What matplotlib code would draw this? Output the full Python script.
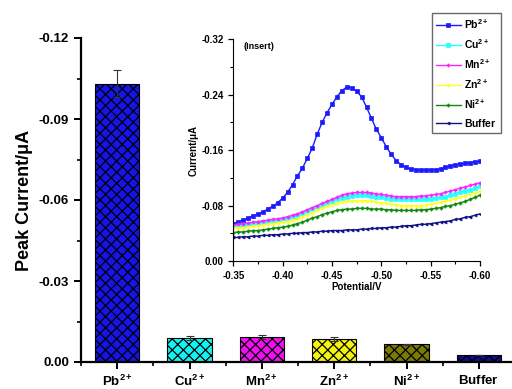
import numpy as np
import matplotlib
matplotlib.use("Agg")
import matplotlib.pyplot as plt
from matplotlib.ticker import FuncFormatter, FixedLocator

plt.rcParams['font.family'] = ['Liberation Sans', 'DejaVu Sans']
plt.rcParams['mathtext.fontset'] = 'custom'
plt.rcParams['mathtext.rm'] = 'Liberation Sans'
plt.rcParams['mathtext.bf'] = 'Liberation Sans:bold'
plt.rcParams['mathtext.it'] = 'Liberation Sans:italic'
plt.rcParams['hatch.linewidth'] = 0.9

# ---- bar data ----
ions = ['Pb', 'Cu', 'Mn', 'Zn', 'Ni', 'Buffer']
peak_current = [-0.103, -0.0088, -0.0094, -0.0085, -0.0066, -0.0026]
peak_err = [0.005, 0.0008, 0.0007, 0.0007, 0.0002, 0.0001]
bar_colors = ['#1515e8', '#11f4f4', '#f011f0', '#f4f411', '#7a7a05', '#0f0f8a']

# ---- inset data ----
potential = np.linspace(-0.35, -0.60, 51)
pb_curve = [0.054, 0.056, 0.059, 0.062, 0.065, 0.068, 0.071, 0.075, 0.079, 0.084,
            0.091, 0.099, 0.110, 0.123, 0.134, 0.148, 0.163, 0.183, 0.200, 0.214,
            0.226, 0.237, 0.246, 0.251, 0.250, 0.245, 0.237, 0.222, 0.206, 0.190,
            0.178, 0.165, 0.154, 0.145, 0.139, 0.135, 0.133, 0.132, 0.131, 0.131,
            0.131, 0.132, 0.133, 0.135, 0.137, 0.139, 0.140, 0.141, 0.142, 0.143,
            0.144]
cu_curve = [0.050, 0.051, 0.052, 0.053, 0.054, 0.055, 0.056, 0.057, 0.058, 0.059,
            0.060, 0.062, 0.064, 0.066, 0.069, 0.072, 0.075, 0.078, 0.081, 0.084,
            0.086, 0.089, 0.091, 0.093, 0.094, 0.095, 0.095, 0.095, 0.094, 0.093,
            0.092, 0.091, 0.090, 0.090, 0.089, 0.089, 0.089, 0.089, 0.089, 0.089,
            0.090, 0.091, 0.092, 0.093, 0.095, 0.097, 0.099, 0.101, 0.103, 0.105,
            0.108]
mn_curve = [0.052, 0.053, 0.054, 0.055, 0.056, 0.057, 0.058, 0.059, 0.060, 0.061,
            0.062, 0.064, 0.066, 0.068, 0.071, 0.074, 0.077, 0.080, 0.083, 0.086,
            0.089, 0.092, 0.095, 0.097, 0.098, 0.099, 0.099, 0.099, 0.098, 0.097,
            0.096, 0.095, 0.094, 0.093, 0.093, 0.093, 0.093, 0.093, 0.094, 0.094,
            0.095, 0.096, 0.097, 0.099, 0.101, 0.103, 0.105, 0.107, 0.109, 0.111,
            0.113]
zn_curve = [0.047, 0.048, 0.048, 0.049, 0.050, 0.051, 0.052, 0.053, 0.054, 0.055,
            0.056, 0.057, 0.059, 0.061, 0.064, 0.067, 0.070, 0.073, 0.076, 0.079,
            0.081, 0.083, 0.085, 0.086, 0.087, 0.087, 0.087, 0.087, 0.086, 0.085,
            0.084, 0.083, 0.082, 0.081, 0.080, 0.080, 0.080, 0.080, 0.080, 0.081,
            0.082, 0.083, 0.085, 0.086, 0.088, 0.090, 0.092, 0.094, 0.096, 0.098,
            0.101]
ni_curve = [0.041, 0.042, 0.042, 0.043, 0.044, 0.044, 0.045, 0.046, 0.047, 0.048,
            0.049, 0.050, 0.052, 0.054, 0.056, 0.059, 0.062, 0.064, 0.067, 0.069,
            0.071, 0.073, 0.074, 0.075, 0.075, 0.076, 0.076, 0.076, 0.075, 0.075,
            0.075, 0.074, 0.074, 0.073, 0.073, 0.073, 0.073, 0.073, 0.074, 0.074,
            0.075, 0.076, 0.077, 0.079, 0.080, 0.082, 0.084, 0.086, 0.089, 0.092,
            0.095]
buffer_curve = [0.034, 0.034, 0.035, 0.035, 0.036, 0.036, 0.037, 0.037, 0.038, 0.038,
                0.039, 0.039, 0.040, 0.040, 0.041, 0.041, 0.042, 0.042, 0.043, 0.043,
                0.044, 0.044, 0.044, 0.045, 0.045, 0.045, 0.046, 0.046, 0.047, 0.047,
                0.048, 0.048, 0.049, 0.049, 0.050, 0.051, 0.051, 0.052, 0.053, 0.053,
                0.054, 0.055, 0.056, 0.057, 0.058, 0.060, 0.061, 0.063, 0.064, 0.066,
                0.068]
curve_labels = [r'Pb$^{2+}$', r'Cu$^{2+}$', r'Mn$^{2+}$', r'Zn$^{2+}$', r'Ni$^{2+}$', 'Buffer']
curve_colors = ['#1a1aff', '#22ffff', '#ff22ff', '#ffff22', '#118811', '#101088']
curve_markers = ['s', 's', 'P', 'P', 'P', '<']

fig = plt.figure(figsize=(5.12, 3.89), dpi=100)

# ---- main bar axes ----
ax = fig.add_axes([81/512, 1-362/389, 434/512, 324/389])
xpos = np.arange(len(ions))
ax.bar(xpos, peak_current, width=0.61, color=bar_colors, edgecolor='black',
       linewidth=0.8, hatch='xxx', zorder=2)
ax.errorbar(xpos, peak_current, yerr=peak_err, fmt='none',
            ecolor='#333333', elinewidth=0.8, capsize=3, capthick=0.8, zorder=3)
ax.set_xlim(-0.5, len(ions)-0.5)
ax.set_ylim(0, -0.12)
for s in ['top', 'right']:
    ax.spines[s].set_visible(False)
for s in ['left', 'bottom']:
    ax.spines[s].set_linewidth(1.6)
ax.yaxis.set_major_locator(FixedLocator([0, -0.03, -0.06, -0.09, -0.12]))
ax.yaxis.set_minor_locator(FixedLocator([-0.015, -0.045, -0.075, -0.105]))
ax.yaxis.set_major_formatter(FuncFormatter(lambda v, p: '0.00' if abs(v) < 1e-9 else '%.2f' % v))
ax.set_xticks(xpos)
ax.set_xticklabels([r'$\mathbf{%s^{2+}}$' % n if n != 'Buffer' else r'$\mathbf{Buffer}$' for n in ions],
                   fontsize=9.5)
ax.xaxis.set_minor_locator(FixedLocator(np.arange(-0.5, len(ions), 1.0)))
ax.tick_params(axis='both', which='major', direction='out', length=5, width=1.4, labelsize=9.5)
ax.tick_params(axis='both', which='minor', direction='out', length=3, width=1.2)
for lab in ax.get_yticklabels():
    lab.set_fontweight('bold')
ax.set_ylabel('Peak Current/μA', fontsize=13, fontweight='bold', labelpad=4)

# ---- inset ----
ins = fig.add_axes([233.3/512, 1-261/389, 246.7/512, 221.7/389])
curves = [pb_curve, cu_curve, mn_curve, zn_curve, ni_curve, buffer_curve]
for c, lab, col, mk in zip(curves, curve_labels, curve_colors, curve_markers):
    ins.plot(potential, -np.array(c), color=col, lw=1.0, marker=mk, ms=2.2,
             mew=0.5, label=lab)
ins.set_xlim(-0.35, -0.60)
ins.set_ylim(0, -0.32)
for s in ['top', 'right']:
    ins.spines[s].set_visible(False)
ins.xaxis.set_major_locator(FixedLocator([-0.35, -0.40, -0.45, -0.50, -0.55, -0.60]))
ins.xaxis.set_minor_locator(FixedLocator([-0.375, -0.425, -0.475, -0.525, -0.575]))
ins.yaxis.set_major_locator(FixedLocator([0, -0.08, -0.16, -0.24, -0.32]))
ins.yaxis.set_minor_locator(FixedLocator([-0.04, -0.12, -0.20, -0.28]))
ins.xaxis.set_major_formatter(FuncFormatter(lambda v, p: '%.2f' % v))
ins.yaxis.set_major_formatter(FuncFormatter(lambda v, p: '0.00' if abs(v) < 1e-9 else '%.2f' % v))
ins.tick_params(axis='both', which='major', direction='out', length=3.5, width=0.9, labelsize=7)
ins.tick_params(axis='both', which='minor', direction='out', length=2, width=0.8)
for lab in ins.get_xticklabels() + ins.get_yticklabels():
    lab.set_fontweight('bold')
ins.set_xlabel('Potential/V', fontsize=7, fontweight='bold', labelpad=1)
ins.set_ylabel('Current/μA', fontsize=7, fontweight='bold', labelpad=2)
ins.text(-0.36, -0.31, '(Insert)', fontsize=6.5, fontweight='bold', va='center', ha='left')

handles, labels = ins.get_legend_handles_labels()
leg = fig.legend(handles, [r'$\mathbf{Pb^{2+}}$', r'$\mathbf{Cu^{2+}}$', r'$\mathbf{Mn^{2+}}$',
                           r'$\mathbf{Zn^{2+}}$', r'$\mathbf{Ni^{2+}}$', r'$\mathbf{Buffer}$'],
                 loc='upper left', bbox_to_anchor=(431.7/512, 1-12.7/389),
                 fontsize=7.5, frameon=True, fancybox=False, edgecolor='#444444',
                 handlelength=2.4, handletextpad=0.3, labelspacing=0.6,
                 borderpad=0.4, borderaxespad=0, numpoints=1)
leg.get_frame().set_linewidth(1.0)

fig.savefig('out.png', dpi=100)
